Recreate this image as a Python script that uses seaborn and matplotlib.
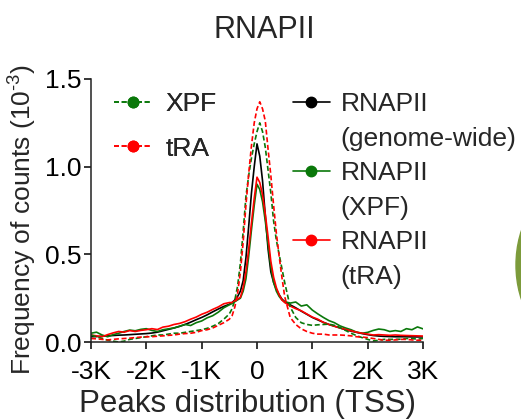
import numpy as np
import pandas as pd
import seaborn as sns
import matplotlib.pyplot as plt
from matplotlib.lines import Line2D
from matplotlib.patches import Ellipse

# distance to TSS (bp)
pos_bp = [-3000, -2900, -2800, -2700, -2600, -2500, -2400, -2300, -2200, -2100,
          -2000, -1900, -1800, -1700, -1600, -1500, -1400, -1300, -1200, -1100,
          -1000, -900, -800, -700, -600, -500,
          -450, -400, -350, -300, -250, -200, -150, -100, -50, 0,
          50, 100, 150, 200, 250, 300, 350, 400, 450,
          500, 600, 700, 800, 900, 1000, 1100, 1200, 1300, 1400,
          1500, 1600, 1700, 1800, 1900, 2000, 2100, 2200, 2300, 2400,
          2500, 2600, 2700, 2800, 2900, 3000]

# frequency of counts (x 10^-3)
rnapii_genome = [0.030, 0.031, 0.033, 0.035, 0.037, 0.039, 0.040, 0.042, 0.044, 0.046,
                 0.048, 0.051, 0.056, 0.064, 0.072, 0.080, 0.089, 0.100, 0.113, 0.127,
                 0.140, 0.155, 0.172, 0.188, 0.203, 0.215,
                 0.225, 0.240, 0.260, 0.290, 0.350, 0.480, 0.660, 0.850, 1.000, 1.130,
                 1.060, 0.920, 0.720, 0.530, 0.400, 0.340, 0.300, 0.270, 0.245,
                 0.230, 0.212, 0.195, 0.176, 0.158, 0.140, 0.126, 0.112, 0.100, 0.090,
                 0.080, 0.070, 0.062, 0.055, 0.048, 0.042, 0.037, 0.034, 0.032, 0.031,
                 0.030, 0.030, 0.030, 0.029, 0.029, 0.029]
rnapii_xpf = [0.050, 0.056, 0.040, 0.030, 0.042, 0.050, 0.060, 0.068, 0.064, 0.072,
              0.076, 0.066, 0.060, 0.070, 0.075, 0.080, 0.090, 0.100, 0.094, 0.110,
              0.120, 0.138, 0.150, 0.170, 0.195, 0.212,
              0.220, 0.230, 0.240, 0.250, 0.290, 0.360, 0.490, 0.640, 0.780, 0.900,
              0.870, 0.800, 0.690, 0.560, 0.430, 0.340, 0.290, 0.260, 0.240,
              0.230, 0.222, 0.228, 0.205, 0.212, 0.182, 0.160, 0.140, 0.122, 0.110,
              0.092, 0.080, 0.070, 0.056, 0.050, 0.055, 0.066, 0.074, 0.070, 0.060,
              0.065, 0.060, 0.076, 0.070, 0.086, 0.075]
rnapii_tra = [0.040, 0.035, 0.030, 0.042, 0.052, 0.060, 0.056, 0.065, 0.060, 0.066,
              0.070, 0.076, 0.071, 0.085, 0.090, 0.100, 0.106, 0.116, 0.130, 0.142,
              0.158, 0.170, 0.186, 0.200, 0.218, 0.225,
              0.225, 0.235, 0.245, 0.255, 0.310, 0.400, 0.530, 0.680, 0.820, 0.940,
              0.910, 0.840, 0.730, 0.600, 0.460, 0.370, 0.310, 0.270, 0.240,
              0.225, 0.205, 0.190, 0.178, 0.160, 0.142, 0.130, 0.112, 0.100, 0.090,
              0.080, 0.072, 0.064, 0.056, 0.050, 0.045, 0.040, 0.042, 0.040, 0.038,
              0.040, 0.038, 0.037, 0.036, 0.035, 0.034]
xpf = [0.040, 0.030, 0.020, 0.010, 0.005, 0.000, 0.005, 0.015, 0.020, 0.025,
       0.030, 0.035, 0.040, 0.040, 0.045, 0.050, 0.050, 0.055, 0.060, 0.065,
       0.070, 0.078, 0.090, 0.105, 0.130, 0.160,
       0.190, 0.240, 0.320, 0.450, 0.630, 0.830, 0.950, 1.050, 1.130, 1.200,
       1.250, 1.200, 1.110, 0.980, 0.850, 0.690, 0.580, 0.500, 0.420,
       0.340, 0.200, 0.140, 0.110, 0.100, 0.095, 0.098, 0.100, 0.102, 0.095,
       0.082, 0.066, 0.050, 0.036, 0.025, 0.015, 0.006, 0.010, 0.015, 0.015,
       0.015, 0.016, 0.020, 0.020, 0.016, 0.020]
tra = [0.020, 0.018, 0.015, 0.012, 0.015, 0.018, 0.020, 0.022, 0.025, 0.028,
       0.030, 0.030, 0.033, 0.035, 0.038, 0.040, 0.045, 0.048, 0.050, 0.055,
       0.065, 0.070, 0.080, 0.095, 0.110, 0.130,
       0.150, 0.200, 0.280, 0.400, 0.570, 0.780, 0.960, 1.120, 1.250, 1.330,
       1.370, 1.330, 1.260, 1.100, 0.950, 0.780, 0.620, 0.490, 0.370,
       0.260, 0.140, 0.100, 0.075, 0.060, 0.050, 0.045, 0.045, 0.040, 0.040,
       0.040, 0.038, 0.035, 0.030, 0.028, 0.025, 0.020, 0.015, 0.010, 0.010,
       0.012, 0.015, 0.015, 0.012, 0.010, 0.010]

xtick_pos = [-3000, -2000, -1000, 0, 1000, 2000, 3000]
xtick_labels = ["-3K", "-2K", "-1K", "0", "1K", "2K", "3K"]

GREEN = "#0a780a"
RED = "#ff0000"

df = pd.DataFrame({"pos": pos_bp, "genome": rnapii_genome, "rxpf": rnapii_xpf,
                   "rtra": rnapii_tra, "xpf": xpf, "tra": tra})

sns.set_style("ticks")
plt.rcParams["font.family"] = ["Liberation Sans", "DejaVu Sans"]
plt.rcParams["mathtext.fontset"] = "custom"
plt.rcParams["mathtext.rm"] = "Liberation Sans"

fig = plt.figure(figsize=(5.21, 4.2), dpi=100)
ax = fig.add_axes([91 / 521, 1 - 342 / 420, 332 / 521, 263 / 420])

lw = 1.2
dash = (0, (3, 1.6))
sns.lineplot(data=df, x="pos", y="genome", ax=ax, color="black", lw=lw, estimator=None)
sns.lineplot(data=df, x="pos", y="rxpf", ax=ax, color=GREEN, lw=lw, estimator=None)
sns.lineplot(data=df, x="pos", y="rtra", ax=ax, color=RED, lw=lw, estimator=None)
sns.lineplot(data=df, x="pos", y="xpf", ax=ax, color=GREEN, lw=lw, linestyle=dash, estimator=None)
sns.lineplot(data=df, x="pos", y="tra", ax=ax, color=RED, lw=lw, linestyle=dash, estimator=None)

ax.set_xlim(-3000, 3000)
ax.set_ylim(0, 1.5)
ax.set_xticks(xtick_pos)
ax.set_xticklabels(xtick_labels)
ax.set_yticks([0, 0.5, 1.0, 1.5])
ax.set_yticklabels(["0.0", "0.5", "1.0", "1.5"])
ax.tick_params(labelsize=19, length=5, width=1.1, direction="out", colors="black")
ax.tick_params(axis="x", pad=8)
ax.tick_params(axis="y", pad=2)
for s in ["left", "bottom"]:
    ax.spines[s].set_linewidth(1.1)
    ax.spines[s].set_color("#222222")
sns.despine(ax=ax)

ax.set_xlabel("Peaks distribution (TSS)", fontsize=22.5)
ax.xaxis.set_label_coords(0.47, -0.18)
ax.set_ylabel("Frequency of counts (10$^{\\text{-3}}$)", fontsize=19)
ax.yaxis.set_label_coords(-0.16, 0.466)

fig.text(264 / 521, 1 - 38 / 420, "RNAPII", ha="center", va="baseline", fontsize=22)

# legends
def h(color, ls):
    return Line2D([], [], color=color, lw=lw, linestyle=ls, marker="o", markersize=7.5)

leg1 = ax.legend([h(GREEN, dash), h(RED, dash)], ["XPF", "tRA"],
                 loc="upper left", bbox_to_anchor=(114 / 521, 1 - 92 / 420),
                 bbox_transform=fig.transFigure, frameon=False, fontsize=19,
                 handlelength=1.45, handletextpad=0.5, labelspacing=0.78,
                 borderpad=0, borderaxespad=0, numpoints=1)
ax.add_artist(leg1)

blank = Line2D([], [], lw=0, color="none")
leg2 = fig.legend([h("black", "-"), blank, h(GREEN, "-"), blank, h(RED, "-"), blank],
                  ["RNAPII", "(genome-wide)", "RNAPII", "(XPF)", "RNAPII", "(tRA)"],
                  loc="upper left", bbox_to_anchor=(293 / 521, 1 - 92 / 420),
                  frameon=False, fontsize=19, handlelength=1.4, handletextpad=0.4,
                  labelspacing=0.4, borderpad=0, borderaxespad=0, numpoints=1)

# edge of the neighbouring panel
fig.add_artist(Ellipse((565 / 521, 1 - 265 / 420), 98 / 521, 150 / 420,
                       transform=fig.transFigure, color="#7c9b3b", clip_on=False))

fig.savefig("out.png", dpi=100)
